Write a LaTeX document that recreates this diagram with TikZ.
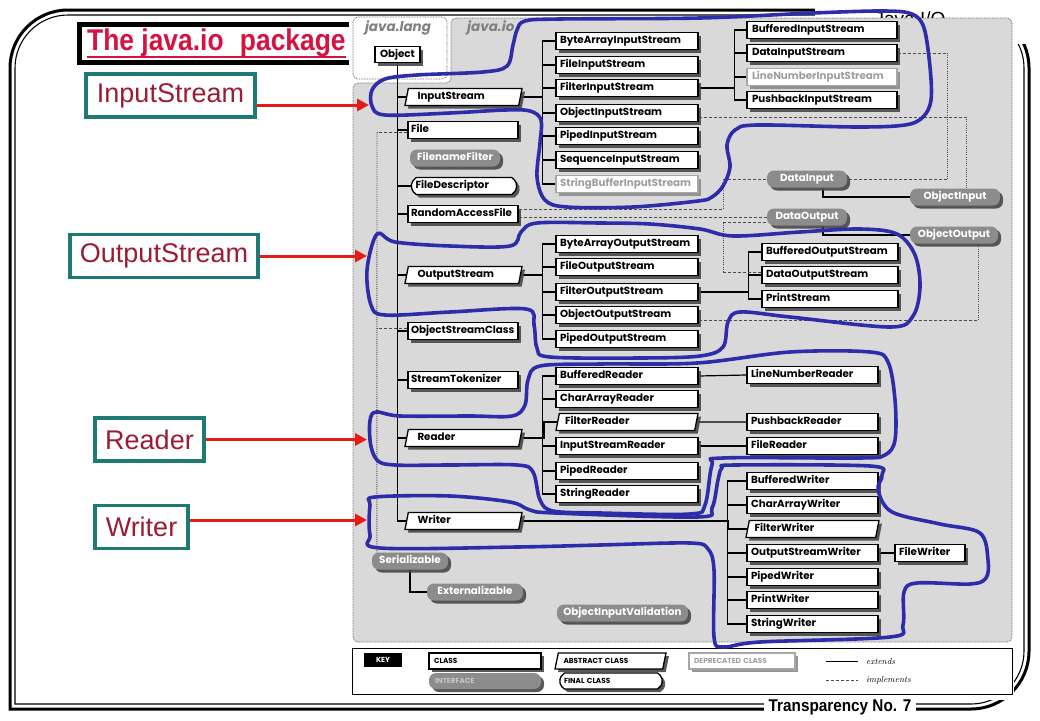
\documentclass[tikz,border=0pt]{standalone}
\usepackage{fontspec}
\usetikzlibrary{shapes.geometric,shapes.misc,shadows,arrows.meta}
\newfontfamily\dfont{Poppins}
\newfontfamily\arialfont{Liberation Sans}
\newfontfamily\titlefont{Liberation Sans}[FakeStretch=0.88]
\newfontfamily\narrowfont{Liberation Sans}[FakeStretch=0.9]
\newcommand\diagfont{\dfont\bfseries\fontsize{10.3}{11}\selectfont}
\newcommand\keyfont{\dfont\bfseries\fontsize{7.3}{8}\selectfont}
\definecolor{panelgray}{RGB}{217,217,217}
\definecolor{ifgray}{RGB}{140,140,140}
\definecolor{loopblue}{RGB}{45,45,170}
\definecolor{arrowred}{RGB}{228,28,22}
\definecolor{labelteal}{RGB}{32,122,116}
\definecolor{labeltext}{RGB}{155,28,52}
\definecolor{titlered}{RGB}{214,18,66}
\pgfdeclarelayer{back}
\pgfdeclarelayer{conn}
\pgfsetlayers{back,conn,main}
\begin{document}
\begin{tikzpicture}[x=1pt,y=-1pt,
 diag/.style={font=\diagfont, inner ysep=0pt, minimum height=17pt, text height=7.3pt, text depth=1.8pt},
 shad/.style={drop shadow={shadow xshift=3pt, shadow yshift=-3pt, fill=black!72, opacity=0.9}},
 cls/.style={diag, shape=rectangle, draw=black, line width=1.3pt, fill=white, shad, inner xsep=5pt, align=left, text width=#1},
 depr/.style={diag, shape=rectangle, draw=black!35, line width=1.3pt, fill=white, text=black!38, drop shadow={shadow xshift=3pt, shadow yshift=-3pt, fill=black!45, opacity=0.9}, inner xsep=5pt, align=left, text width=#1},
 abst/.style 2 args={diag, shape=trapezium, trapezium left angle=70, trapezium right angle=110, trapezium stretches body=true, draw=black, line width=1.3pt, fill=white, shad, inner xsep=2pt, align=left, text width=#1, minimum width=#2},
 finl/.style={diag, shape=rounded rectangle, rounded rectangle arc length=120, draw=black, line width=1.3pt, fill=white, shad, inner xsep=3pt, align=left, text width=#1},
 iface/.style={diag, shape=rectangle, rounded corners=7pt, fill=ifgray, draw=none, text=white, shad, inner xsep=2pt, minimum width=#1},
 ext/.style={line width=1.2pt, black},
 impl/.style={line width=0.8pt, black!70, dash pattern=on 3pt off 2pt},
 impld/.style={line width=0.9pt, black!70, dash pattern=on 1pt off 1.2pt},
 panelb/.style={draw=black!60, line width=0.7pt, dash pattern=on 0.8pt off 0.8pt, rounded corners=5pt},
 bluering/.style={draw=loopblue, line width=3.6pt, line join=round},
 redarr/.style={draw=arrowred, line width=3pt, -{Triangle[length=12pt,width=12pt]}},
 lbl/.style={draw=labelteal, line width=3.5pt, fill=white, text=labeltext, font=\arialfont\fontsize{27}{30}\selectfont, inner sep=0pt, minimum width=#1, minimum height=43pt},
 pkg/.style={font=\dfont\bfseries\itshape\fontsize{13.5}{14}\selectfont, text=black!50, inner sep=0pt},
 keytxt/.style={font=\itshape\fontsize{8.8}{9}\selectfont, inner sep=0pt, anchor=west}
]
% ---------- background layer ----------
\begin{pgfonlayer}{back}
\fill[white] (0,0) rectangle (1040,720);
\draw[line width=3pt, line cap=rect, rounded corners=58pt] (10,709) -- (10,10) -- (1029,10) -- (1029,709) -- (10,709);
\draw[line width=1.1pt, line cap=rect, rounded corners=53pt] (15,704) -- (15,15) -- (1024,15) -- (1024,704) -- (15,704);
\draw[line width=4.5pt] (79.5,24.5) rectangle (400,62.5);
\fill[white] (815,0) rectangle (1040,44);
\fill[white] (349,17) rectangle (1014,700);
\node[font=\arialfont\fontsize{19}{20}\selectfont, anchor=base, inner sep=0pt] (jio) at (910,25) {Java I/O};
\draw[panelb, fill=white] (353,17) rectangle (447,79);
\draw[panelb, fill=panelgray] (353,642) -- (353,83) -- (451,83) -- (451,18) -- (1012,18) -- (1012,642) -- cycle;
\node[pkg] (jlang) at (398,28) {java.lang};
\node[pkg, anchor=west] (jio2) at (467,28) {java.io};
\draw[fill=white, line width=0.8pt] (352,648) rectangle (1012,694);
\end{pgfonlayer}

% ---------- title and labels ----------
\node[anchor=base west, inner sep=0pt, text=titlered, font=\titlefont\bfseries\fontsize{30}{32}\selectfont] (title) at (87,50) {The java.io\hspace{0.3em} package};
\draw[titlered, line width=2.2pt] ([yshift=-7pt]title.base west) -- ([yshift=-7pt]title.base east);

\node[lbl=169pt] (lIS) at (170.5,95.5) {InputStream};
\node[lbl=188pt] (lOS) at (164,256) {OutputStream};
\node[lbl=109pt] (lRd) at (149.5,439.5) {Reader};
\node[lbl=93pt] (lWr) at (141.5,527) {Writer};

% ---------- column 1 ----------
\node[cls=35pt, minimum height=16pt] (Object) at (397.5,54.5) {Object};
\node[abst={92pt}{117pt}] (InputStream) at (463.5,97) {InputStream};
\node[cls=104pt, inner xsep=3pt] (File) at (463,130) {File};
\node[iface=90pt] (FilenameFilter) at (455,158) {FilenameFilter};
\node[finl=97pt] (FileDescriptor) at (464,186) {FileDescriptor};
\node[cls=104pt, inner xsep=3pt] (RandomAccessFile) at (463,214) {RandomAccessFile};
\node[abst={92pt}{117pt}] (OutputStream) at (463.5,275) {OutputStream};
\node[cls=104pt, inner xsep=3pt] (ObjectStreamClass) at (463,331) {ObjectStreamClass};
\node[cls=104pt, inner xsep=3pt] (StreamTokenizer) at (463,380) {StreamTokenizer};
\node[abst={92pt}{117pt}] (Reader) at (463.5,438) {Reader};
\node[abst={92pt}{117pt}] (Writer) at (463.5,521) {Writer};
\node[iface=76pt] (Serializable) at (410,561) {Serializable};
\node[iface=96pt] (Externalizable) at (475,592) {Externalizable};
\node[iface=131pt] (ObjectInputValidation) at (622.5,613) {ObjectInputValidation};

% ---------- column 2 ----------
\node[cls=134pt, inner xsep=4pt] (BAIS) at (627,41) {ByteArrayInputStream};
\node[cls=134pt, inner xsep=4pt] (FIS) at (627,65) {FileInputStream};
\node[cls=134pt, inner xsep=4pt] (FltIS) at (627,88) {FilterInputStream};
\node[cls=134pt, inner xsep=4pt] (OIS) at (627,113) {ObjectInputStream};
\node[cls=134pt, inner xsep=4pt] (PIS) at (627,136) {PipedInputStream};
\node[cls=134pt, inner xsep=4pt] (SIS) at (627,160) {SequenceInputStream};
\node[depr=134pt, inner xsep=4pt] (SBIS) at (627,184) {StringBufferInputStream};
\node[cls=134pt, inner xsep=4pt] (BAOS) at (627,244) {ByteArrayOutputStream};
\node[cls=134pt, inner xsep=4pt] (FOS) at (627,267) {FileOutputStream};
\node[cls=134pt, inner xsep=4pt] (FltOS) at (627,292) {FilterOutputStream};
\node[cls=134pt, inner xsep=4pt] (OOS) at (627,315) {ObjectOutputStream};
\node[cls=134pt, inner xsep=4pt] (POS) at (627,339) {PipedOutputStream};
\node[cls=134pt, inner xsep=4pt] (BR) at (627,376) {BufferedReader};
\node[cls=134pt, inner xsep=4pt] (CAR) at (627,399) {CharArrayReader};
\node[abst={124pt}{142pt}] (FltR) at (627,422) {FilterReader};
\node[cls=134pt, inner xsep=4pt] (ISR) at (627,446) {InputStreamReader};
\node[cls=134pt, inner xsep=4pt] (PR) at (627,471) {PipedReader};
\node[cls=134pt, inner xsep=4pt] (SR) at (627,494) {StringReader};

% ---------- column 3 ----------
\node[cls=140pt] (BIS) at (822,30) {BufferedInputStream};
\node[cls=140pt] (DIS) at (822,53) {DataInputStream};
\node[depr=140pt] (LNIS) at (822,77) {LineNumberInputStream};
\node[cls=140pt] (PbIS) at (822,100) {PushbackInputStream};
\node[cls=128pt, inner xsep=4pt] (BOS) at (830,252) {BufferedOutputStream};
\node[cls=128pt, inner xsep=4pt] (DOS) at (830,275) {DataOutputStream};
\node[cls=128pt, inner xsep=4pt] (PS) at (830,299) {PrintStream};
\node[cls=123pt, inner xsep=4pt] (LNR) at (812.5,375) {LineNumberReader};
\node[cls=123pt, inner xsep=4pt] (PbR) at (812.5,422) {PushbackReader};
\node[cls=123pt, inner xsep=4pt] (FR) at (812.5,446) {FileReader};
\node[cls=123pt, inner xsep=4pt] (BW) at (812.5,481) {BufferedWriter};
\node[cls=123pt, inner xsep=4pt] (CAW) at (812.5,505) {CharArrayWriter};
\node[abst={116pt}{133pt}] (FltW) at (812.5,529) {FilterWriter};
\node[cls=123pt, inner xsep=4pt] (OSW) at (812.5,553) {OutputStreamWriter};
\node[cls=123pt, inner xsep=4pt] (PW) at (812.5,577) {PipedWriter};
\node[cls=123pt, inner xsep=4pt] (PrW) at (812.5,600) {PrintWriter};
\node[cls=123pt, inner xsep=4pt] (SW) at (812.5,624) {StringWriter};
\node[cls=62pt, inner xsep=4pt] (FW) at (930,553) {FileWriter};
\node[iface=80pt] (DataInput) at (807,179) {DataInput};
\node[iface=90pt] (ObjectInput) at (955,197) {ObjectInput};
\node[iface=80pt] (DataOutput) at (807,217) {DataOutput};
\node[iface=88pt] (ObjectOutput) at (954,235) {ObjectOutput};

% ---------- key ----------
\node[fill=black, text=white, font=\keyfont, minimum width=38pt, minimum height=14pt, inner sep=0pt] (kKey) at (383,660) {KEY};
\node[cls=102pt, font=\keyfont, minimum height=16pt] (kClass) at (485,661) {CLASS};
\node[abst={94pt}{111pt}, font=\keyfont, minimum height=16pt] (kAbs) at (610.5,661) {ABSTRACT CLASS};
\node[depr=96pt, font=\keyfont, minimum height=16pt] (kDepr) at (742,661) {DEPRECATED CLASS};
\node[iface=112pt, font=\keyfont, minimum height=16pt, text=black!22, align=left, text width=100pt] (kIface) at (485,681) {INTERFACE};
\node[finl=94pt, font=\keyfont, minimum height=16pt] (kFinal) at (611,681) {FINAL CLASS};
\coordinate (kE1) at (826,661);
\coordinate (kE2) at (858,661);
\coordinate (kI1) at (826,680);
\coordinate (kI2) at (858,680);
\draw[ext, line width=0.9pt] (kE1) -- (kE2);
\draw[impl] (kI1) -- (kI2);
\node[keytxt] (kExt) at (866,661) {extends};
\node[keytxt] (kImp) at (866,680) {implements};

% ---------- transparency number ----------
\node[fill=white, inner xsep=5pt, inner ysep=1pt, font=\narrowfont\bfseries\fontsize{17}{18}\selectfont] (tno) at (840,707) {Transparency No. 7};

% ---------- connectors ----------
\coordinate (i1a) at (947,53);
\coordinate (i1b) at (947,179);
\coordinate (i2a) at (966,117);
\coordinate (i3a) at (723,209);
\coordinate (i3b) at (723,179);
\coordinate (i5a) at (723,272);
\coordinate (i5b) at (723,222);
\coordinate (i6a) at (978,320);
\coordinate (i7a) at (377,132);
\coordinate (i8a) at (377,328);
\begin{pgfonlayer}{conn}
\foreach \n in {InputStream,File,FileDescriptor,RandomAccessFile,OutputStream,ObjectStreamClass,StreamTokenizer,Reader,Writer}
  \draw[ext] (Object.south) |- (\n.west);
\foreach \n in {BAIS,FIS,FltIS,OIS,PIS,SIS,SBIS}
  \draw[ext] (InputStream.east) -| ([xshift=-13pt]\n.west) -- (\n.west);
\foreach \n in {BIS,DIS,LNIS,PbIS}
  \draw[ext] (FltIS.east) -| ([xshift=-12pt]\n.west) -- (\n.west);
\foreach \n in {BAOS,FOS,FltOS,OOS,POS}
  \draw[ext] (OutputStream.east) -| ([xshift=-13pt]\n.west) -- (\n.west);
\foreach \n in {BOS,DOS,PS}
  \draw[ext] (FltOS.east) -| ([xshift=-13pt]\n.west) -- (\n.west);
\foreach \n in {BR,CAR,FltR,ISR,PR,SR}
  \draw[ext] (Reader.east) -| ([xshift=-13pt]\n.west) -- (\n.west);
\foreach \n in {BW,CAW,FltW,OSW,PW,PrW,SW}
  \draw[ext] (Writer.east) -| ([xshift=-19pt]\n.west) -- (\n.west);
\draw[ext] (BR.east) -- (LNR.west);
\draw[ext] (FltR.east) -- (PbR.west);
\draw[ext] (ISR.east) -- (FR.west);
\draw[ext] (OSW.east) -- (FW.west);
\draw[ext] (Serializable.south) |- (Externalizable.west);
\draw[ext] ([xshift=16pt]DataInput.south) |- (ObjectInput.west);
\draw[ext] ([xshift=16pt]DataOutput.south) |- (ObjectOutput.west);
% implements
\draw[impl] (DIS.east) -- (i1a);
\draw[impld] (i1a) -- (i1b);
\draw[impl] (i1b) -- (DataInput.east);
\draw[impl] ([yshift=-4pt]OIS.east) -- (i2a);
\draw[impld] (i2a) -- ([xshift=11pt]ObjectInput.north);
\draw[impl] ([yshift=5pt]RandomAccessFile.east) -- (i3a);
\draw[impld] (i3a) -- (i3b);
\draw[impl] (i3b) -- (DataInput.west);
\draw[impl] ([yshift=-3pt]RandomAccessFile.east) -- (DataOutput.west);
\draw[impl] ([yshift=3pt]DOS.west) -- (i5a);
\draw[impld] (i5a) -- (i5b);
\draw[impl] (i5b) -- ([yshift=-5pt]DataOutput.west);
\draw[impl] ([yshift=-5pt]OOS.east) -- (i6a);
\draw[impld] (i6a) -- ([xshift=24pt]ObjectOutput.south);
\draw[impl] ([yshift=-2pt]File.west) -- (i7a);
\draw[impld] (i7a) -- ([xshift=5pt]Serializable.north west);
\draw[impl] ([yshift=3pt]ObjectStreamClass.west) -- (i8a);
\end{pgfonlayer}

% ---------- red arrows ----------
\coordinate (tIS) at (369,105);
\coordinate (tOS) at (367,256);
\coordinate (tRd) at (367,439.5);
\coordinate (tWr) at (367,520);
\draw[redarr] ([yshift=-9.5pt]lIS.east) -- (tIS);
\draw[redarr] (lOS.east) -- (tOS);
\draw[redarr] (lRd.east) -- (tRd);
\draw[redarr] ([yshift=7pt]lWr.east) -- (tWr);

% ---------- blue hand-drawn loops ----------
\draw[bluering] plot[smooth cycle, tension=0.55] coordinates {
 (372,90) (385,79) (417,75) (483,72) (507,66) (513,45) (517,30) (525,21) (560,19) (700,18)
 (813,13) (883,11) (912,14) (924,28) (930,67) (931,100) (923,117) (905,125) (857,127) (757,125)
 (735,130) (727,145) (730,167) (723,186) (712,197) (698,201) (633,207) (567,207) (545,200) (537,177)
 (540,143) (541,120) (530,111) (505,110) (450,113) (385,115) (372,106)};
\draw[bluering] plot[smooth cycle, tension=0.55] coordinates {
 (377,234) (395,242) (450,246) (510,246) (521,232) (537,223) (600,223) (650,224) (700,229) (733,236)
 (800,232) (860,229) (897,234) (915,255) (920,287) (913,316) (890,327) (790,317) (740,312) (728,322)
 (723,347) (700,356) (640,358) (550,357) (537,348) (534,325) (526,309) (450,312) (385,315) (371,305)
 (367,270)};
\draw[bluering] plot[smooth cycle, tension=0.55] coordinates {
 (373,413) (400,416) (470,416) (512,416) (525,405) (528,380) (540,366) (600,364) (697,363) (790,352)
 (870,352) (888,362) (895,400) (895,440) (885,455) (860,458) (723,458) (712,465) (705,505) (690,514)
 (600,513) (553,511) (540,500) (533,472) (517,465) (450,465) (395,465) (377,460) (370,440)};
\draw[bluering] plot[smooth cycle, tension=0.55] coordinates {
 (375,497) (450,496) (510,502) (530,510) (555,513) (697,517) (712,508) (718,480) (722,468) (735,465)
 (870,466) (882,475) (878,490) (892,512) (940,524) (980,533) (988,560) (986,578) (970,584) (917,583)
 (904,592) (903,625) (890,637) (760,642) (723,647) (714,637) (714,570) (708,549) (690,543) (600,545)
 (517,547) (380,548) (370,535) (370,505)};
\end{tikzpicture}
\end{document}
